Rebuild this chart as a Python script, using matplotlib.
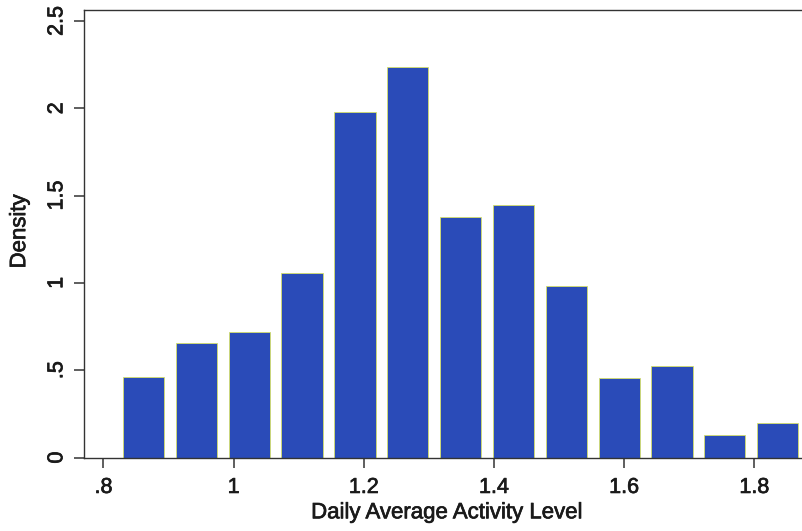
import matplotlib
matplotlib.use("Agg")
import matplotlib.pyplot as plt
import matplotlib.patheffects as pe
import numpy as np

# Data
bin_start = 0.8210
bin_width = 0.0812
densities = [0.459, 0.654, 0.720, 1.057, 1.977, 2.238, 1.379, 1.446, 0.982,
             0.457, 0.524, 0.129, 0.196]
x_ticks = [0.8, 1.0, 1.2, 1.4, 1.6, 1.8]
x_tick_labels = [".8", "1", "1.2", "1.4", "1.6", "1.8"]
y_ticks = [0, 0.5, 1, 1.5, 2, 2.5]
y_tick_labels = ["0", ".5", "1", "1.5", "2", "2.5"]

plt.rcParams['font.family'] = ['Liberation Sans', 'DejaVu Sans']

W, H = 802, 531
fig = plt.figure(figsize=(W / 100, H / 100), dpi=100)
left, right, top, bottom = 84, 802, 9.5, 457.5
ax = fig.add_axes([left / W, 1 - bottom / H, (right - left) / W, (bottom - top) / H])

centers = bin_start + bin_width * (np.arange(len(densities)) + 0.5)
ax.bar(centers, densities, width=bin_width * 0.78, color='#2a4bb8',
       edgecolor='#d4df6a', linewidth=0.6, zorder=2)

ax.set_xlim(0.7701, 1.8734)
ax.set_ylim(0, (bottom - top) / 174.6)

ax.spines['right'].set_visible(False)
for s in ['left', 'bottom', 'top']:
    ax.spines[s].set_linewidth(1.0)
    ax.spines[s].set_color('#333333')

bold = [pe.withStroke(linewidth=0.5, foreground='#1a1a1a')]

ax.set_xticks(x_ticks)
ax.set_xticklabels(x_tick_labels, fontsize=15.5, color='#1a1a1a')
ax.set_yticks(y_ticks)
ax.set_yticklabels(y_tick_labels, fontsize=15.5, rotation=90, va='center',
                   color='#1a1a1a')
for t in ax.get_xticklabels() + ax.get_yticklabels():
    t.set_path_effects(bold)
ax.tick_params(axis='x', length=7, width=1.1, color='#333333', pad=7)
ax.tick_params(axis='y', length=7, width=1.1, color='#333333', pad=5)

xl = ax.set_xlabel("Daily Average Activity Level", fontsize=16, color='#1a1a1a')
yl = ax.set_ylabel("Density", fontsize=16, color='#1a1a1a')
xl.set_path_effects(bold)
yl.set_path_effects(bold)
ax.xaxis.set_label_coords(0.506, -0.100)
ax.yaxis.set_label_coords(-0.075, 0.505)

fig.savefig("out.png", dpi=100)
